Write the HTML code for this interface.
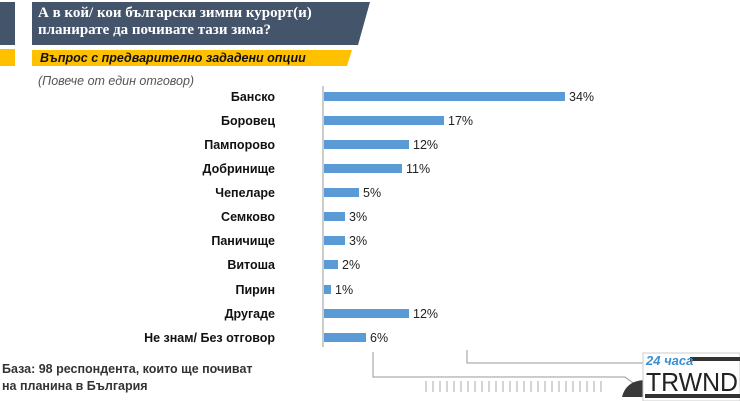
<!DOCTYPE html>
<html><head><meta charset="utf-8"><style>
body{margin:0;width:740px;height:401px;background:#fff;position:relative;overflow:hidden;font-family:"Liberation Sans",sans-serif}
.a{position:absolute}
.lab{position:absolute;right:465px;font-weight:bold;font-size:12.5px;color:#111;line-height:14px;white-space:nowrap}
.bar{position:absolute;left:324px;height:9px;background:#5b9bd5}
.v{position:absolute;font-size:12.5px;color:#222;line-height:14px}
</style></head><body>
<svg class="a" style="left:0;top:0" width="740" height="401">
<rect x="0" y="2" width="15" height="43" fill="#44546a"/>
<rect x="0" y="49" width="15" height="17" fill="#ffc000"/>
<polygon points="32,2 370,2 358,45 32,45" fill="#44546a"/>
<polygon points="32,50 352,50 347,66 32,66" fill="#ffc000"/>
<line x1="323" y1="86" x2="323" y2="347" stroke="#999" stroke-width="1"/>
<polyline points="373,352 373,377 625,377 640,388" fill="none" stroke="#999" stroke-width="1"/>
<polyline points="467,350 467,363 645,363" fill="none" stroke="#999" stroke-width="1"/>
<g stroke="#aaa" stroke-width="1">
<line x1="426" y1="381" x2="426" y2="392"/><line x1="433" y1="381" x2="433" y2="392"/><line x1="440" y1="381" x2="440" y2="392"/><line x1="447" y1="381" x2="447" y2="392"/><line x1="454" y1="381" x2="454" y2="392"/><line x1="461" y1="381" x2="461" y2="392"/><line x1="468" y1="381" x2="468" y2="392"/><line x1="475" y1="381" x2="475" y2="392"/><line x1="482" y1="381" x2="482" y2="392"/><line x1="489" y1="381" x2="489" y2="392"/><line x1="496" y1="381" x2="496" y2="392"/><line x1="503" y1="381" x2="503" y2="392"/><line x1="510" y1="381" x2="510" y2="392"/><line x1="517" y1="381" x2="517" y2="392"/><line x1="524" y1="381" x2="524" y2="392"/><line x1="531" y1="381" x2="531" y2="392"/><line x1="538" y1="381" x2="538" y2="392"/><line x1="545" y1="381" x2="545" y2="392"/><line x1="552" y1="381" x2="552" y2="392"/><line x1="559" y1="381" x2="559" y2="392"/><line x1="566" y1="381" x2="566" y2="392"/><line x1="573" y1="381" x2="573" y2="392"/><line x1="580" y1="381" x2="580" y2="392"/><line x1="587" y1="381" x2="587" y2="392"/><line x1="594" y1="381" x2="594" y2="392"/><line x1="601" y1="381" x2="601" y2="392"/>
</g>
<path d="M622,397 Q626,381 644,380 L644,397 Z" fill="#3a3a3a"/>
<rect x="643" y="353" width="97" height="48" fill="#fff" stroke="#ccc"/>
<rect x="690" y="357" width="50" height="4" fill="#333"/>
<rect x="645" y="394" width="95" height="4" fill="#333"/>
<text x="646" y="365" font-family="Liberation Sans" font-style="italic" font-weight="bold" font-size="13" fill="#3a8fd0">24 чаca</text>
<text x="646" y="391" font-family="Liberation Sans" font-size="26" fill="#222" textLength="92" lengthAdjust="spacingAndGlyphs">TRWND</text>
</svg>
<div class="a" style="left:38px;top:5px;color:#fff;font-family:'Liberation Serif',serif;font-weight:bold;font-size:15px;line-height:17px">А в кой/ кои български зимни курорт(и)<br>планирате да почивате тази зима?</div>
<div class="a" style="left:40px;top:50px;font-style:italic;font-weight:bold;font-size:12.5px;color:#111;line-height:16px">Въпрос с предварително зададени опции</div>
<div class="a" style="left:38px;top:74px;font-style:italic;font-size:12.5px;color:#555">(Повече от един отговор)</div>

<div class="lab" style="top:90px">Банско</div><div class="bar" style="top:92px;width:241px"></div><div class="v" style="left:569px;top:90px">34%</div>
<div class="lab" style="top:114px">Боровец</div><div class="bar" style="top:116px;width:120px"></div><div class="v" style="left:448px;top:114px">17%</div>
<div class="lab" style="top:138px">Пампорово</div><div class="bar" style="top:140px;width:85px"></div><div class="v" style="left:413px;top:138px">12%</div>
<div class="lab" style="top:162px">Добринище</div><div class="bar" style="top:164px;width:78px"></div><div class="v" style="left:406px;top:162px">11%</div>
<div class="lab" style="top:186px">Чепеларе</div><div class="bar" style="top:188px;width:35px"></div><div class="v" style="left:363px;top:186px">5%</div>
<div class="lab" style="top:210px">Семково</div><div class="bar" style="top:212px;width:21px"></div><div class="v" style="left:349px;top:210px">3%</div>
<div class="lab" style="top:234px">Паничище</div><div class="bar" style="top:236px;width:21px"></div><div class="v" style="left:349px;top:234px">3%</div>
<div class="lab" style="top:258px">Витоша</div><div class="bar" style="top:260px;width:14px"></div><div class="v" style="left:342px;top:258px">2%</div>
<div class="lab" style="top:283px">Пирин</div><div class="bar" style="top:285px;width:7px"></div><div class="v" style="left:335px;top:283px">1%</div>
<div class="lab" style="top:307px">Другаде</div><div class="bar" style="top:309px;width:85px"></div><div class="v" style="left:413px;top:307px">12%</div>
<div class="lab" style="top:331px">Не знам/ Без отговор</div><div class="bar" style="top:333px;width:42px"></div><div class="v" style="left:370px;top:331px">6%</div>

<div class="a" style="left:2px;top:361px;font-weight:bold;font-size:12.5px;color:#333;line-height:17px">База: 98 респондента, които ще почиват<br>на планина в България</div>
</body></html>
